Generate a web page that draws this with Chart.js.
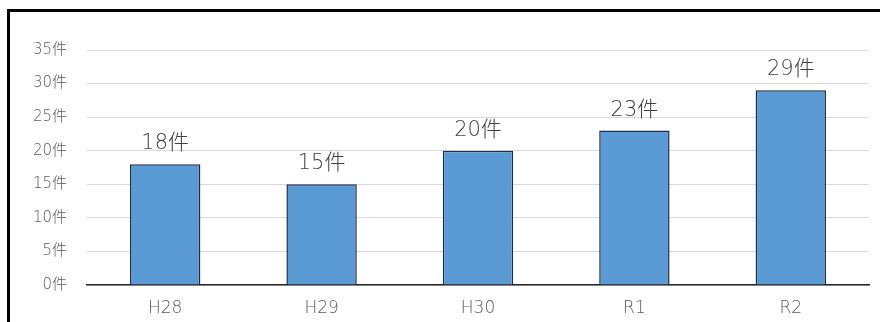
<!DOCTYPE html>
<html>
<head>
<meta charset="utf-8">
<script src="https://cdn.jsdelivr.net/npm/chart.js@4/dist/chart.umd.min.js"></script>
<style>
  html, body { margin: 0; padding: 0; background: #ffffff; }
  #wrap { width: 880px; height: 322px; position: relative; }
</style>
</head>
<body>
<div id="wrap"><canvas id="chart" width="880" height="322"></canvas></div>
<script>
// 年度別の件数
const categories = ['H28', 'H29', 'H30', 'R1', 'R2'];
const counts = [18, 15, 20, 23, 29];
const yTicks = [0, 5, 10, 15, 20, 25, 30, 35];
const unit = '件';

const FONT = '"DejaVu Sans", "Noto Sans CJK JP", sans-serif';

// frame lines along the top and left edges
const framePlugin = {
  id: 'frame',
  beforeDraw(chart) {
    const ctx = chart.ctx;
    ctx.save();
    ctx.fillStyle = '#ffffff';
    ctx.fillRect(0, 0, chart.width, chart.height);
    ctx.fillStyle = '#000000';
    ctx.fillRect(7, 9, chart.width - 7, 3);
    ctx.fillRect(7, 9, 3, chart.height - 9);
    ctx.restore();
  }
};

// value labels above each bar
const valueLabels = {
  id: 'valueLabels',
  afterDatasetsDraw(chart) {
    const ctx = chart.ctx;
    const meta = chart.getDatasetMeta(0);
    ctx.save();
    ctx.font = '200 21px ' + FONT;
    ctx.fillStyle = '#404040';
    ctx.textAlign = 'center';
    ctx.textBaseline = 'bottom';
    meta.data.forEach((bar, i) => {
      ctx.fillText(counts[i] + unit, bar.x, bar.y - 10);
    });
    ctx.restore();
  }
};

new Chart(document.getElementById('chart'), {
  type: 'bar',
  data: {
    labels: categories,
    datasets: [{
      data: counts,
      backgroundColor: '#5b9bd5',
      borderColor: '#1f2a44',
      borderWidth: 1.5,
      barPercentage: 0.45,
      categoryPercentage: 1.0
    }]
  },
  options: {
    responsive: false,
    animation: false,
    layout: { padding: { left: 0, right: 11, top: 50, bottom: 0 } },
    plugins: {
      legend: { display: false },
      tooltip: { enabled: false }
    },
    scales: {
      x: {
        grid: { display: false, drawTicks: false },
        border: { display: true, color: '#262626', width: 1.5 },
        ticks: {
          color: '#595959',
          font: { family: FONT, size: 17, weight: 200 },
          padding: 13
        },
        afterFit(scale) { scale.height = 37; }
      },
      y: {
        min: 0,
        max: 35,
        afterBuildTicks(scale) {
          scale.ticks = yTicks.map(v => ({ value: v }));
        },
        grid: { color: '#d9d9d9', lineWidth: 1, drawTicks: false },
        border: { display: false },
        ticks: {
          color: '#595959',
          font: { family: FONT, size: 15, weight: 200 },
          padding: 20,
          callback: v => v + unit
        },
        afterFit(scale) { scale.width = 87; }
      }
    }
  },
  plugins: [framePlugin, valueLabels]
});
</script>
</body>
</html>
